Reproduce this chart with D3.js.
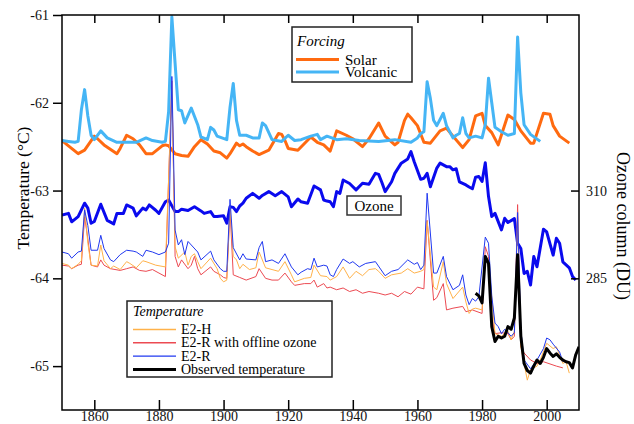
<!DOCTYPE html>
<html>
<head>
<meta charset="utf-8">
<script src="https://cdn.jsdelivr.net/npm/d3@7"></script>
<style>
  body { margin: 0; background: #fff; }
  svg, svg text { font-family: "Liberation Serif", "Times New Roman", Tinos, "DejaVu Serif", serif; }
</style>
</head>
<body>
<div id="chart"></div>
<script>
// ---- data ----
const yearTicks = [1860, 1880, 1900, 1920, 1940, 1960, 1980, 2000]
const tempTicks = [-65, -64, -63, -62, -61]
const ozoneTicks = [285, 310]

const solarYears = [1850,1852,1855,1857,1860,1861,1863,1867,1868,1870,1872,1874,1876,1878,1881,1882,1883,1885,1887,1889,1891,1893,1895,1897,1899,1901,1902,1904,1905,1906,1907,1909,1911,1914,1917,1918,1919,1920,1923,1927,1929,1931,1933,1935,1938,1940,1943,1945,1948,1950,1953,1954,1956,1957,1958,1960,1962,1964,1967,1969,1971,1974,1976,1978,1980,1981,1983,1985,1988,1990,1992,1995,1996,1999,2001,2002,2004,2007]
const solar = [-62.43,-62.49,-62.58,-62.54,-62.38,-62.41,-62.48,-62.58,-62.52,-62.37,-62.41,-62.48,-62.58,-62.58,-62.49,-62.48,-62.49,-62.58,-62.60,-62.61,-62.50,-62.42,-62.47,-62.55,-62.57,-62.63,-62.58,-62.46,-62.49,-62.47,-62.50,-62.55,-62.59,-62.54,-62.35,-62.36,-62.43,-62.52,-62.54,-62.39,-62.45,-62.48,-62.55,-62.32,-62.37,-62.41,-62.50,-62.41,-62.23,-62.38,-62.48,-62.45,-62.20,-62.13,-62.17,-62.26,-62.45,-62.46,-62.32,-62.29,-62.38,-62.51,-62.42,-62.15,-62.12,-62.26,-62.34,-62.48,-62.14,-62.19,-62.32,-62.46,-62.46,-62.12,-62.13,-62.26,-62.38,-62.46]

const volcYears = [1850,1852,1854,1855,1856,1857,1858,1859,1860,1862,1863,1864,1867,1870,1873,1876,1878,1881,1882,1883,1884,1885,1886,1887,1888,1890,1892,1893,1895,1896,1897,1898,1901,1902,1903,1904,1905,1907,1909,1911,1912,1913,1915,1918,1920,1922,1924,1927,1929,1930,1932,1935,1938,1942,1948,1953,1958,1960,1961,1962,1963,1964,1965,1966,1968,1969,1971,1972,1973,1974,1975,1976,1978,1980,1981,1982,1983,1984,1986,1988,1990,1991,1992,1993,1995,1998]
const volcanic = [-62.43,-62.44,-62.45,-62.44,-62.08,-61.85,-62.15,-62.37,-62.42,-62.32,-62.36,-62.40,-62.45,-62.45,-62.45,-62.40,-62.43,-62.45,-62.44,-62.10,-61.02,-61.55,-62.08,-62.09,-62.23,-62.06,-62.25,-62.39,-62.42,-62.28,-62.31,-62.38,-62.42,-62.05,-61.78,-62.20,-62.37,-62.37,-62.40,-62.40,-62.23,-62.26,-62.42,-62.44,-62.37,-62.43,-62.42,-62.38,-62.36,-62.42,-62.38,-62.42,-62.41,-62.43,-62.44,-62.42,-62.45,-62.40,-62.35,-62.33,-61.76,-61.95,-62.20,-62.26,-62.12,-62.26,-62.40,-62.37,-62.35,-62.17,-62.35,-62.40,-62.38,-62.40,-62.25,-61.72,-62.00,-62.28,-62.33,-62.37,-62.35,-61.25,-61.89,-62.25,-62.36,-62.44]

const ozoneYears = [1850,1852,1853,1855,1857,1858,1859,1860,1862,1864,1866,1867,1869,1870,1872,1873,1875,1876,1877,1879,1880,1882,1883,1885,1886,1887,1889,1891,1893,1894,1896,1897,1898,1900,1901,1902,1903,1904,1905,1906,1907,1909,1911,1912,1914,1916,1918,1920,1921,1923,1924,1926,1928,1930,1931,1932,1933,1934,1935,1936,1937,1939,1941,1943,1945,1947,1948,1949,1950,1952,1953,1955,1957,1958,1959,1961,1962,1963,1964,1966,1967,1969,1970,1971,1972,1973,1975,1976,1977,1978,1979,1980,1981,1982,1983,1984,1986,1987,1988,1990,1991,1992,1993,1994,1995,1996,1997,1999,2000,2002,2003,2004,2005,2007,2008,2009]
const ozone = [303.0,303.5,301.1,302.6,306.4,305.0,300.7,301.2,306.1,301.5,300.5,303.5,303.5,305.9,305.0,302.8,305.0,304.5,305.9,304.4,303.5,306.8,307.3,304.0,304.0,304.7,304.3,305.4,304.2,303.5,304.0,302.6,302.6,302.8,300.7,305.4,305.2,304.0,305.6,306.4,307.8,309.2,307.8,308.6,309.7,308.5,309.7,308.2,305.4,307.6,306.8,306.4,311.3,310.2,307.3,307.0,306.8,305.4,309.7,309.2,313.0,312.0,310.2,312.1,311.8,314.9,314.6,312.3,309.7,312.5,314.9,317.8,319.0,321.1,318.2,313.2,313.5,314.9,311.1,316.4,317.8,316.8,316.8,315.9,316.2,312.5,311.6,311.0,310.5,313.8,314.0,312.6,317.9,308.3,302.6,303.5,298.8,302.1,300.9,302.0,295.0,293.5,286.4,287.0,283.1,291.2,288.3,299.0,298.2,291.6,296.4,295.0,289.7,288.0,285.5,284.5]

const e2rYears = [1850,1852,1853,1855,1856,1857,1858,1859,1861,1862,1863,1865,1866,1868,1870,1872,1873,1875,1876,1878,1880,1882,1883,1884,1885,1886,1887,1888,1889,1890,1892,1893,1896,1897,1899,1900,1901,1902,1903,1905,1906,1907,1910,1911,1912,1913,1915,1917,1919,1921,1923,1924,1926,1927,1928,1929,1931,1932,1933,1934,1935,1937,1939,1940,1942,1944,1947,1950,1952,1954,1957,1959,1960,1961,1962,1963,1965,1966,1968,1969,1971,1973,1974,1975,1976,1977,1978,1979,1981,1982,1983,1984,1985,1986,1987,1989,1990,1991,1992,1993,1995,1997,1999,2000,2001,2002,2004,2005]
const e2r = [-63.70,-63.72,-63.77,-63.70,-63.69,-63.22,-63.40,-63.68,-63.68,-63.51,-63.66,-63.79,-63.81,-63.73,-63.68,-63.69,-63.70,-63.75,-63.68,-63.70,-63.73,-63.70,-63.60,-61.70,-63.45,-63.62,-63.56,-63.73,-63.58,-63.62,-63.70,-63.79,-63.69,-63.79,-63.89,-63.92,-63.92,-63.10,-63.65,-63.79,-63.72,-63.78,-63.79,-63.65,-63.58,-63.81,-63.79,-63.83,-63.72,-63.87,-63.96,-63.93,-63.89,-63.90,-63.77,-63.87,-63.85,-63.86,-63.96,-63.98,-63.90,-63.78,-63.83,-63.81,-63.87,-63.83,-63.81,-63.97,-63.92,-63.90,-63.79,-63.84,-63.82,-63.90,-63.85,-63.03,-63.94,-63.94,-63.75,-63.98,-64.13,-64.08,-63.96,-64.19,-64.30,-64.23,-64.26,-64.21,-63.53,-63.60,-64.20,-64.51,-64.55,-64.63,-64.58,-64.66,-64.62,-63.25,-64.59,-64.93,-65.03,-64.93,-64.80,-64.68,-64.70,-64.75,-64.84,-64.95]

const e2hYears = [1850,1852,1853,1855,1856,1857,1858,1859,1861,1862,1863,1865,1866,1868,1870,1871,1873,1875,1876,1879,1882,1884,1885,1886,1888,1889,1890,1891,1892,1893,1896,1898,1899,1900,1901,1902,1903,1904,1905,1906,1908,1910,1911,1913,1915,1917,1919,1921,1922,1925,1927,1928,1930,1932,1933,1934,1935,1937,1939,1941,1943,1945,1947,1948,1950,1952,1955,1957,1959,1961,1962,1963,1965,1966,1968,1969,1971,1974,1975,1976,1977,1978,1980,1981,1982,1983,1984,1986,1988,1989,1990,1991,1992,1994,1995,1997,1998,2000,2002,2003,2005,2006,2007]
const e2h = [-63.83,-63.85,-63.89,-63.84,-63.80,-63.20,-63.60,-63.85,-63.86,-63.62,-63.80,-63.89,-63.86,-63.90,-63.81,-63.83,-63.88,-63.80,-63.81,-63.85,-63.87,-61.85,-63.64,-63.77,-63.70,-63.85,-63.75,-63.72,-63.81,-63.89,-63.77,-63.89,-64.00,-64.04,-64.02,-63.18,-63.75,-63.79,-63.89,-63.84,-63.90,-63.88,-63.70,-63.88,-63.90,-63.92,-63.81,-63.96,-64.04,-64.00,-63.99,-63.85,-63.97,-63.98,-64.02,-64.00,-63.98,-63.87,-64.00,-63.92,-63.97,-63.90,-63.89,-63.92,-64.00,-63.96,-63.94,-63.89,-63.94,-63.92,-63.90,-63.35,-64.10,-64.13,-63.81,-64.06,-64.23,-64.10,-64.27,-64.40,-64.35,-64.34,-64.36,-63.75,-63.85,-64.21,-64.63,-64.66,-64.60,-64.70,-64.60,-63.30,-64.78,-65.16,-65.04,-65.00,-64.93,-64.74,-64.80,-64.78,-64.97,-64.95,-65.08]

const offlineYears = [1850,1852,1853,1855,1856,1857,1858,1859,1861,1862,1863,1865,1868,1870,1872,1874,1876,1878,1880,1882,1884,1885,1886,1887,1889,1890,1891,1892,1893,1896,1897,1899,1900,1901,1902,1903,1905,1907,1910,1911,1913,1915,1917,1919,1921,1922,1925,1927,1928,1929,1931,1932,1933,1935,1937,1939,1941,1943,1945,1948,1950,1952,1954,1956,1958,1960,1962,1963,1965,1966,1968,1969,1971,1974,1975,1977,1980,1981,1982,1983,1984,1986,1988,1989,1990,1991,1992,1993,1995,1997,1999,2003,2005]
const offline = [-63.85,-63.86,-63.89,-63.85,-63.84,-63.30,-63.55,-63.85,-63.87,-63.79,-63.85,-63.89,-63.91,-63.89,-63.87,-63.91,-63.92,-63.90,-63.94,-63.98,-61.75,-63.75,-63.87,-63.79,-63.89,-63.85,-63.75,-63.89,-63.96,-63.87,-63.92,-63.96,-63.99,-64.00,-63.22,-63.96,-63.99,-64.02,-63.98,-63.89,-64.00,-64.02,-64.02,-63.94,-64.04,-64.08,-64.06,-64.06,-64.02,-64.10,-64.06,-64.11,-64.10,-64.13,-64.11,-64.15,-64.13,-64.17,-64.15,-64.17,-64.19,-64.17,-64.21,-64.15,-64.18,-64.10,-64.12,-63.34,-64.25,-64.22,-64.06,-64.36,-64.34,-64.32,-64.38,-64.36,-64.40,-63.64,-63.75,-64.44,-64.63,-64.62,-64.63,-64.70,-64.66,-63.16,-64.78,-64.85,-64.93,-64.97,-64.95,-65.00,-65.02]

const obsYears = [1978,1979,1980,1981,1982,1983,1984,1985,1986,1987,1988,1989,1990,1991,1992,1993,1994,1995,1996,1997,1998,1999,2000,2001,2002,2003,2004,2005,2006,2007,2008,2009,2010]
const observed = [-64.17,-64.20,-64.28,-63.75,-63.83,-64.55,-64.72,-64.66,-64.68,-64.66,-64.55,-64.58,-64.45,-63.73,-64.66,-64.97,-65.05,-65.08,-65.00,-64.93,-64.97,-64.90,-64.80,-64.85,-64.89,-64.86,-64.90,-64.93,-64.95,-64.96,-65.02,-64.87,-64.78]

// ---- layout ----
const W = 634, H = 424
const plotL = 62, plotR = 579, plotT = 15, plotB = 410
const serif = "'Liberation Serif', 'Times New Roman', Tinos, 'DejaVu Serif', serif"

const x = d3.scaleLinear().domain([1850, 2010]).range([plotL, plotR])
const y = d3.scaleLinear().domain([-65.5, -61]).range([plotB, plotT])
// ozone axis: 310 DU sits on -63, 285 DU on -64
const y2 = d3.scaleLinear().domain([247.5, 360]).range([plotB, plotT])

const svg = d3.select("#chart").append("svg")
    .attr("width", W)
    .attr("height", H)
    .attr("font-family", serif)

svg.append("rect").attr("width", W).attr("height", H).attr("fill", "#fff")

svg.append("clipPath").attr("id", "plot")
    .append("rect")
    .attr("x", plotL).attr("y", plotT)
    .attr("width", plotR - plotL).attr("height", plotB - plotT)

const g = svg.append("g").attr("clip-path", "url(#plot)")

function series(years, vals, scale) {
    return years.map((yr, i) => [x(yr), scale(vals[i])])
}
const line = d3.line()

function draw(years, vals, scale, color, width) {
    g.append("path")
        .attr("d", line(series(years, vals, scale)))
        .attr("fill", "none")
        .attr("stroke", color)
        .attr("stroke-width", width)
        .attr("stroke-linejoin", "round")
}

const cSolar = "#ff6a10", cVolc = "#45b5f5", cOzone = "#0a0aee"
const cE2H = "#ffb24a", cOff = "#ec4a52", cE2R = "#2038f0", cObs = "#000"

draw(ozoneYears, ozone, y2, cOzone, 3)
draw(solarYears, solar, y, cSolar, 3)
draw(volcYears, volcanic, y, cVolc, 3)
draw(offlineYears, offline, y, cOff, 1)
draw(e2hYears, e2h, y, cE2H, 1)
draw(e2rYears, e2r, y, cE2R, 1)
draw(obsYears, observed, y, cObs, 3)

// ---- axes ----
svg.append("g")
    .attr("transform", "translate(" + plotL + ",0)")
    .call(d3.axisLeft(y).tickValues(tempTicks).tickSize(9).tickPadding(4).tickFormat(d => String(d)))
    .call(a => a.select(".domain").remove())

svg.append("g")
    .attr("transform", "translate(0," + plotB + ")")
    .call(d3.axisBottom(x).tickValues(yearTicks).tickSize(-10).tickPadding(1).tickFormat(d3.format("d")))
    .call(a => a.select(".domain").remove())

svg.append("g")
    .attr("transform", "translate(0," + plotT + ")")
    .call(d3.axisBottom(x).tickValues(yearTicks).tickSize(8).tickFormat(""))
    .call(a => a.select(".domain").remove())

svg.append("g")
    .attr("transform", "translate(" + plotR + ",0)")
    .call(d3.axisRight(y2).tickValues(ozoneTicks).tickSize(-8).tickPadding(7))
    .call(a => a.select(".domain").remove())

svg.selectAll("g").attr("font-family", serif)
svg.selectAll(".tick line").attr("stroke", "#000").attr("stroke-width", 1.5)
svg.selectAll(".tick text")
    .attr("font-size", 14)
    .attr("fill", "#111")

svg.append("rect")
    .attr("x", plotL).attr("y", plotT)
    .attr("width", plotR - plotL).attr("height", plotB - plotT)
    .attr("fill", "none").attr("stroke", "#000").attr("stroke-width", 1.5)

svg.append("text")
    .attr("transform", "translate(29,188) rotate(-90)")
    .attr("text-anchor", "middle")
    .attr("font-size", 17.5)
    .text("Temperature (°C)")

svg.append("text")
    .attr("transform", "translate(617,226) rotate(90)")
    .attr("text-anchor", "middle")
    .attr("font-size", 18)
    .text("Ozone column (DU)")

// ---- Ozone label ----
svg.append("rect")
    .attr("x", 347).attr("y", 196).attr("width", 54).attr("height", 19)
    .attr("fill", "#fff").attr("stroke", "#333").attr("stroke-width", 1.5)
svg.append("text").attr("x", 374).attr("y", 211)
    .attr("text-anchor", "middle").attr("font-size", 15).text("Ozone")

// ---- Forcing legend ----
const forcing = [["Solar", cSolar], ["Volcanic", cVolc]]
const lf = svg.append("g")
lf.append("rect").attr("x", 292).attr("y", 27).attr("width", 120).attr("height", 55)
    .attr("fill", "#fff").attr("stroke", "#222").attr("stroke-width", 1.5)
lf.append("text").attr("x", 297).attr("y", 46).attr("font-size", 15)
    .attr("font-style", "italic").text("Forcing")
forcing.forEach((f, i) => {
    const yy = 59.5 + i * 12.5
    lf.append("line").attr("x1", 296).attr("x2", 339).attr("y1", yy).attr("y2", yy)
        .attr("stroke", f[1]).attr("stroke-width", 3)
    lf.append("text").attr("x", 345).attr("y", yy + 5).attr("font-size", 15).text(f[0])
})

// ---- Temperature legend ----
const temps = [["E2-H", cE2H, 1.5], ["E2-R with offline ozone", cOff, 1.5], ["E2-R", cE2R, 1.2], ["Observed temperature", cObs, 3]]
const lt = svg.append("g")
lt.append("rect").attr("x", 127).attr("y", 301).attr("width", 205).attr("height", 76)
    .attr("fill", "#fff").attr("stroke", "#222").attr("stroke-width", 1.5)
lt.append("text").attr("x", 133).attr("y", 316).attr("font-size", 14)
    .attr("font-style", "italic").text("Temperature")
temps.forEach((t, i) => {
    const yy = 329.5 + i * 13.3
    lt.append("line").attr("x1", 133).attr("x2", 176).attr("y1", yy).attr("y2", yy)
        .attr("stroke", t[1]).attr("stroke-width", t[2])
    lt.append("text").attr("x", 181).attr("y", yy + 4.5).attr("font-size", 14).text(t[0])
})
</script>
</body>
</html>
